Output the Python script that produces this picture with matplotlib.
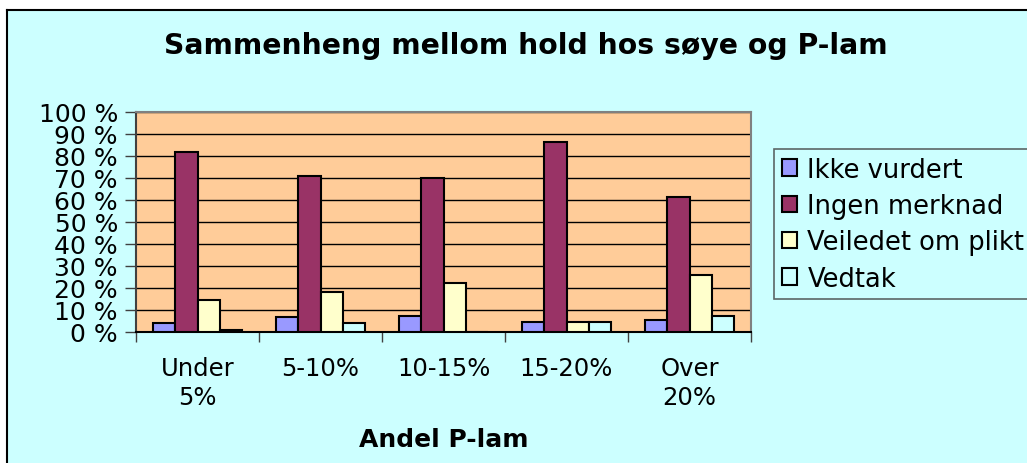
import matplotlib
matplotlib.use("Agg")
import matplotlib.pyplot as plt
from matplotlib.patches import Rectangle
from matplotlib.lines import Line2D
import numpy as np

categories = ["Under\n5%", "5-10%", "10-15%", "15-20%", "Over\n20%"]
series_names = ["Ikke vurdert", "Ingen merknad", "Veiledet om plikt", "Vedtak"]
ikke_vurdert = [4, 7, 7.5, 4.5, 5.5]
ingen_merknad = [82, 71, 70, 86.5, 61.5]
veiledet = [14.5, 18, 22.5, 4.5, 26]
vedtak = [1, 4, 0, 4.5, 7.5]
yticks = list(range(0, 101, 10))
ytick_labels = [f"{v} %" for v in yticks]

colors = ["#9999FF", "#993366", "#FFFFCC", "#CCFFFF"]
values = [ikke_vurdert, ingen_merknad, veiledet, vedtak]

W, H = 1027, 464
fig = plt.figure(figsize=(W / 100, H / 100), dpi=100)
fig.patch.set_facecolor("white")
plt.rcParams["font.family"] = ["DejaVu Sans"]

# chart area background
fig.patches.append(Rectangle((7 / W, 0), 1 - 7 / W, 1 - 11 / H, transform=fig.transFigure,
                             facecolor="#CCFFFF", edgecolor="none", zorder=-10))
fig.lines.append(Line2D([7 / W, 7 / W], [0, 1 - 11 / H], transform=fig.transFigure, color="black", lw=1.5))
fig.lines.append(Line2D([7 / W, 1], [1 - 11 / H, 1 - 11 / H], transform=fig.transFigure, color="black", lw=1.5))

ax = fig.add_axes([136 / W, (H - 333) / H, (751 - 136) / W, (333 - 113) / H])
ax.set_facecolor("#FFCC99")

x = np.arange(len(categories))
bw = 0.1825
for k, (name, vals, c) in enumerate(zip(series_names, values, colors)):
    ax.bar(x + (k - 1.5) * bw, vals, width=bw, color=c, edgecolor="black", linewidth=1.5,
           label=name, zorder=3)

ax.set_xlim(-0.5, len(categories) - 0.5)
ax.set_ylim(0, 100)
ax.set_yticks(yticks)
ax.set_yticklabels(ytick_labels, fontsize=18)
ax.yaxis.grid(True, color="black", linewidth=1)
ax.set_axisbelow(True)
ax.tick_params(axis="y", length=8, width=1, color="#404040", pad=5)

ax.set_xticks(x)
ax.set_xticklabels(categories, fontsize=17.5, linespacing=1.3)
ax.tick_params(axis="x", length=0, pad=17)
ax.set_xticks(np.arange(-0.5, len(categories), 1), minor=True)
ax.tick_params(axis="x", which="minor", length=7, width=1, color="#404040")

ax.spines["top"].set_color("#808080")
ax.spines["right"].set_color("#808080")
ax.spines["left"].set_color("#404040")
ax.spines["bottom"].set_color("black")
for s in ax.spines.values():
    s.set_linewidth(1.5)

ax.set_xlabel("Andel P-lam", fontsize=18, fontweight="bold", labelpad=13)

fig.text(526 / W, 1 - 46 / H, "Sammenheng mellom hold hos søye og P-lam", fontsize=20.3,
         fontweight="bold", ha="center", va="center")

leg = fig.legend(loc="upper left", bbox_to_anchor=(774 / W, 1 - 150 / H), fontsize=18.5,
                 frameon=True, fancybox=False, edgecolor="#404040", facecolor="#CCFFFF",
                 handlelength=0.6, handleheight=0.6, handletextpad=0.4, labelspacing=0.4,
                 borderpad=0.3, borderaxespad=0)
leg.get_frame().set_linewidth(1.2)

fig.savefig("out.png", dpi=100)
